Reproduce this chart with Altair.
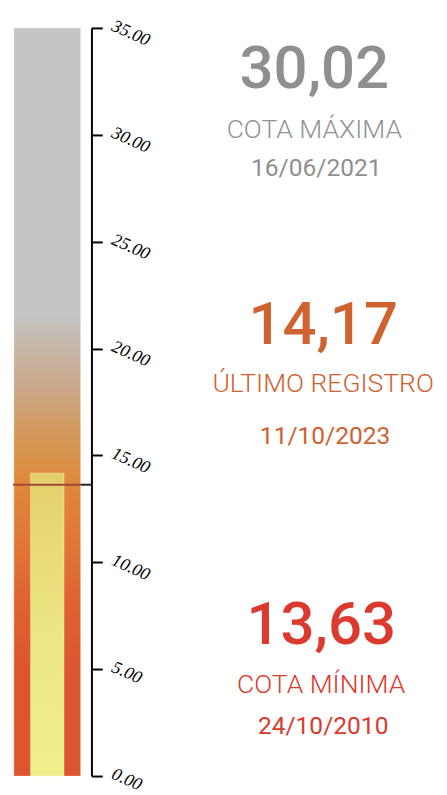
import altair as alt
import pandas as pd

# ---- data ----
TICKS = [0, 5, 10, 15, 20, 25, 30, 35]
SCALE_MIN = 0
SCALE_MAX = 35
MAX_VAL = 30.02
LAST_VAL = 14.17
MIN_VAL = 13.63
VALUE_TEXT = ["30,02", "14,17", "13,63"]
CAPTIONS = ["COTA MÁXIMA", "ÚLTIMO REGISTRO", "COTA MÍNIMA"]
DATES = ["16/06/2021", "11/10/2023", "24/10/2010"]

# ---- style / layout ----
COLORS = ["#8f8f8f", "#d0622f", "#dc3a2e"]
CAPTION_COLORS = ["#939393", "#d0622f", "#dc3a2e"]
BLOCK_X = [312, 321, 319]
BIG_Y = [74, 335, 640]
CAP_Y = [125, 384, 690]
DATE_Y = [164, 437, 732]

y_scale = alt.Scale(domain=[SCALE_MIN, SCALE_MAX], range=[775, 13], nice=False)

outer_grad = alt.Gradient(
    gradient="linear", x1=0, x2=0, y1=1, y2=0,
    stops=[
        alt.GradientStop(offset=0.0, color="#dc5430"),
        alt.GradientStop(offset=5 / 35, color="#dc5530"),
        alt.GradientStop(offset=8 / 35, color="#de6232"),
        alt.GradientStop(offset=10 / 35, color="#e07035"),
        alt.GradientStop(offset=12 / 35, color="#e07e38"),
        alt.GradientStop(offset=14 / 35, color="#df8a3c"),
        alt.GradientStop(offset=15 / 35, color="#d8934b"),
        alt.GradientStop(offset=16.5 / 35, color="#d19c64"),
        alt.GradientStop(offset=18 / 35, color="#cba787"),
        alt.GradientStop(offset=20 / 35, color="#c6b6a6"),
        alt.GradientStop(offset=21.5 / 35, color="#c4c4c3"),
        alt.GradientStop(offset=1.0, color="#c4c5c5"),
    ],
)
inner_grad = alt.Gradient(
    gradient="linear", x1=0, x2=0, y1=1, y2=0,
    stops=[
        alt.GradientStop(offset=0.0, color="#f0ef8c"),
        alt.GradientStop(offset=0.5, color="#ece584"),
        alt.GradientStop(offset=0.75, color="#e8da78"),
        alt.GradientStop(offset=1.0, color="#e2cf6c"),
    ],
)

axis = alt.Axis(
    orient="right", values=TICKS, format=".2f", title=None, grid=False,
    labelAngle=24, labelAlign="left", labelBaseline="middle",
    labelFont="Liberation Serif", labelFontStyle="italic", labelFontSize=18,
    labelColor="black", labelPadding=10, labelOffset=-3,
    labelFlush=False, labelOverlap=False,
    tickColor="black", tickSize=11, tickWidth=2,
    domainColor="black", domainWidth=2,
)

outer = alt.Chart(pd.DataFrame({"lo": [SCALE_MIN], "hi": [SCALE_MAX]})).mark_rect(
    color=outer_grad, stroke="#ffffff", strokeOpacity=0.3, strokeWidth=1
).encode(
    x=alt.value(6), x2=alt.value(74),
    y=alt.Y("lo:Q", scale=y_scale, axis=axis), y2="hi:Q",
)

inner = alt.Chart(pd.DataFrame({"lo": [SCALE_MIN], "hi": [LAST_VAL]})).mark_rect(
    color=inner_grad, stroke="#fff6c0", strokeOpacity=0.5, strokeWidth=1
).encode(
    x=alt.value(23), x2=alt.value(57),
    y=alt.Y("lo:Q", scale=y_scale, axis=axis), y2="hi:Q",
)

min_df = pd.DataFrame({"v": [MIN_VAL]})
rule_bar = alt.Chart(min_df).mark_rule(color="#a5463a", strokeWidth=2).encode(
    x=alt.value(5), x2=alt.value(74),
    y=alt.Y("v:Q", scale=y_scale, axis=axis),
)
rule_gap = alt.Chart(min_df).mark_rule(color="#222222", strokeWidth=2).encode(
    x=alt.value(74), x2=alt.value(85),
    y=alt.Y("v:Q", scale=y_scale, axis=axis),
)

texts = []
for i in range(3):
    df = pd.DataFrame({"big": [VALUE_TEXT[i]], "cap": [CAPTIONS[i]], "date": [DATES[i]]})
    base = alt.Chart(df)
    texts.append(base.mark_text(align="center", baseline="alphabetic", font="Roboto",
                                fontSize=61, fontWeight=500, color=COLORS[i]).encode(
        x=alt.value(BLOCK_X[i]), y=alt.value(BIG_Y[i]), text="big:N"))
    texts.append(base.mark_text(align="center", baseline="alphabetic", font="Roboto",
                                fontSize=27, fontWeight=300, color=CAPTION_COLORS[i]).encode(
        x=alt.value(BLOCK_X[i]), y=alt.value(CAP_Y[i]), text="cap:N"))
    texts.append(base.mark_text(align="center", baseline="alphabetic", font="Roboto",
                                fontSize=25, fontWeight=400, color=COLORS[i]).encode(
        x=alt.value(BLOCK_X[i] + 2), y=alt.value(DATE_Y[i]), text="date:N"))

chart = alt.layer(outer, inner, rule_bar, rule_gap, *texts).properties(
    width=85, height=787,
    padding={"left": 0, "top": 0, "right": 354, "bottom": 0},
    autosize=alt.AutoSizeParams(type="none"),
    background="white",
).configure_view(stroke=None)

chart.save("out.html", embed_options={"renderer": "svg", "actions": False})
